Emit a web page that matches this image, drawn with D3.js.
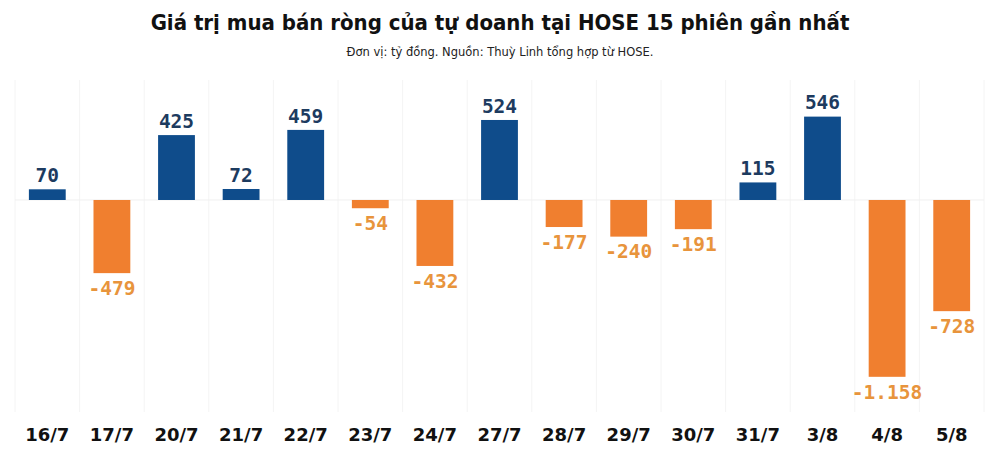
<!DOCTYPE html>
<html>
<head>
<meta charset="utf-8">
<script src="https://cdn.jsdelivr.net/npm/d3@7"></script>
<style>
  body { margin: 0; background: #fff; }
  svg { display: block; }
</style>
</head>
<body>
<svg width="1000" height="457"></svg>
<script>
var sessions = ["16/7", "17/7", "20/7", "21/7", "22/7", "23/7", "24/7", "27/7", "28/7", "29/7", "30/7", "31/7", "3/8", "4/8", "5/8"];
var netValues = [70, -479, 425, 72, 459, -54, -432, 524, -177, -240, -191, 115, 546, -1158, -728];
var valueLabels = ["70", "-479", "425", "72", "459", "-54", "-432", "524", "-177", "-240", "-191", "115", "546", "-1.158", "-728"];

var width = 1000;
var height = 457;

var svg = d3.select('svg');

var x = d3.scaleBand().domain(sessions).range([15, 984]).paddingInner(0.43).paddingOuter(0.215);
var y = d3.scaleLinear().domain([-1300, 700]).range([398.5, 93.1]);

var step = x.step();
var gap = (step - x.bandwidth()) / 2;

// faint separators between sessions
var edges = sessions.map(function (d) { return x(d) - gap; });
edges.push(x(sessions[sessions.length - 1]) + x.bandwidth() + gap);
svg.selectAll('line.grid')
  .data(edges)
  .enter()
  .append('line')
  .attr('class', 'grid')
  .attr('x1', function (d) { return d; })
  .attr('x2', function (d) { return d; })
  .attr('y1', 80)
  .attr('y2', 412)
  .attr('stroke', '#f4f4f4')
  .attr('stroke-width', 1);

// zero line
svg.append('line')
  .attr('x1', 15).attr('x2', 984)
  .attr('y1', y(0)).attr('y2', y(0))
  .attr('stroke', '#f0f0f0');

svg.selectAll('rect.bar')
  .data(netValues)
  .enter()
  .append('rect')
  .attr('class', 'bar')
  .attr('x', function (d, i) { return x(sessions[i]); })
  .attr('width', x.bandwidth())
  .attr('y', function (d) { return y(Math.max(0, d)); })
  .attr('height', function (d) { return Math.abs(y(d) - y(0)); })
  .attr('fill', function (d) { return d >= 0 ? '#0f4c8b' : '#f07f2f'; });

svg.selectAll('text.value')
  .data(netValues)
  .enter()
  .append('text')
  .attr('class', 'value')
  .attr('x', function (d, i) { return x(sessions[i]) + x.bandwidth() / 2; })
  .attr('y', function (d) { return d >= 0 ? y(d) - 14 : y(d) + 15; })
  .attr('dy', '0.35em')
  .attr('text-anchor', 'middle')
  .style('font-family', '"DejaVu Sans Mono", monospace')
  .style('font-weight', 'bold')
  .style('font-size', '19.5px')
  .attr('fill', function (d) { return d >= 0 ? '#1d3b5f' : '#e8943c'; })
  .text(function (d, i) { return valueLabels[i]; });

var axisBottom = d3.axisBottom(x).tickSize(0).tickPadding(0);
var gx = svg.append('g')
  .attr('transform', 'translate(0,435)')
  .call(axisBottom);
gx.select('.domain').remove();
gx.selectAll('text')
  .attr('dy', '0.35em')
  .attr('y', 0)
  .style('font-family', '"DejaVu Sans", Verdana, sans-serif')
  .style('font-weight', 'bold')
  .style('font-size', '18px')
  .attr('fill', '#111');

// title
svg.append('text')
  .attr('x', width / 2)
  .attr('y', 22)
  .attr('dy', '0.35em')
  .attr('text-anchor', 'middle')
  .style('font-family', '"DejaVu Sans Condensed", "DejaVu Sans", sans-serif')
  .style('font-stretch', 'condensed')
  .style('font-weight', 'bold')
  .style('font-size', '22px')
  .attr('fill', '#111')
  .text('Giá trị mua bán ròng của tự doanh tại HOSE 15 phiên gần nhất');

svg.append('text')
  .attr('x', width / 2)
  .attr('y', 52)
  .attr('dy', '0.35em')
  .attr('text-anchor', 'middle')
  .style('font-family', '"DejaVu Sans", Verdana, sans-serif')
  .style('font-size', '11.5px')
  .attr('fill', '#222')
  .text('Đơn vị: tỷ đồng. Nguồn: Thuỳ Linh tổng hợp từ HOSE.');
</script>
</body>
</html>
